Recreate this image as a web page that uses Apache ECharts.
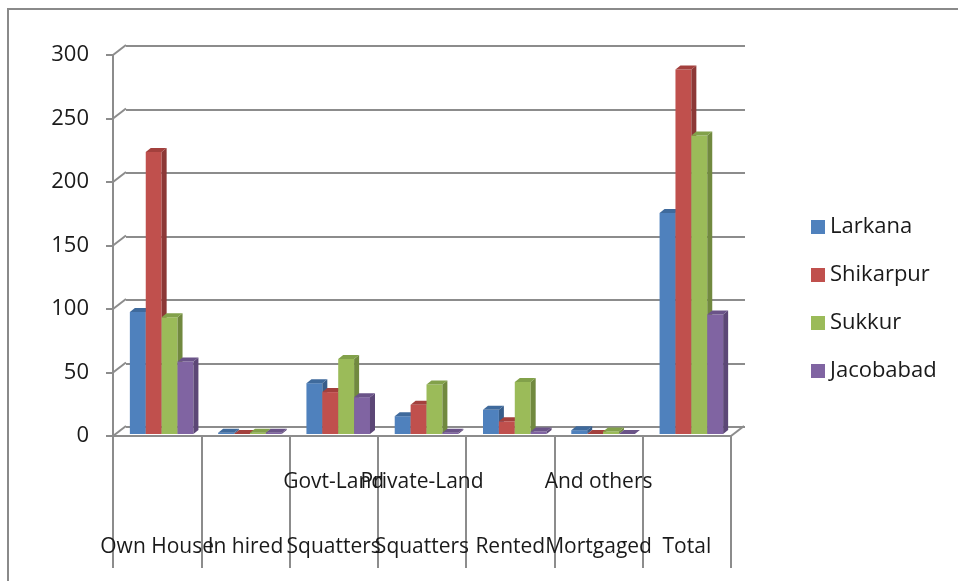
<!DOCTYPE html>
<html>
<head>
<meta charset="utf-8">
<script src="https://cdn.jsdelivr.net/npm/echarts@6/dist/echarts.min.js"></script>
<style>html,body{margin:0;padding:0;background:#fff}#c{width:958px;height:581px}</style>
</head>
<body>
<div id="c"></div>
<script>
const categories = ["Own House", "In hired", "Govt-Land\nSquatters", "Private-Land\nSquatters", "Rented", "And others\nMortgaged", "Total"];
const seriesNames = ["Larkana", "Shikarpur", "Sukkur", "Jacobabad"];
const larkana   = [96, 1, 40, 14, 19, 3, 174];
const shikarpur = [222, 0, 33, 23, 10, 0, 287];
const sukkur    = [92, 1, 59, 39, 41, 2, 235];
const jacobabad = [57, 1, 29, 1, 2, 0, 94];
const yTicks = [0, 50, 100, 150, 200, 250, 300];

const seriesValues = [larkana, shikarpur, sukkur, jacobabad];
const frontColors = ["#4F81BD", "#C0504D", "#9BBB59", "#8064A2"];
const sideColors  = ["#385D8A", "#8C3836", "#71893F", "#5C4776"];
const topColors   = ["#3F6A9C", "#A3403D", "#82A14A", "#6A5388"];

const DX = 5, DY = -4;
function makeRender(idx) {
  return function (params, api) {
    const cat = api.value(0), v = api.value(1);
    const top = api.coord([cat, v]);
    const base = api.coord([cat, 0]);
    const bw = api.size([1, 0])[0];
    const w = bw * 0.18;
    const x0 = top[0] - 2 * w + idx * w + 4.5;
    const y0 = top[1] - 2, yb = base[1] - 2;
    return {
      type: 'group',
      children: [
        { type: 'rect', shape: { x: x0, y: y0, width: w, height: yb - y0 }, style: { fill: frontColors[idx] } },
        { type: 'polygon', shape: { points: [[x0 + w, y0], [x0 + w + DX, y0 + DY], [x0 + w + DX, yb + DY], [x0 + w, yb]] }, style: { fill: sideColors[idx] } },
        { type: 'polygon', shape: { points: [[x0, y0], [x0 + DX, y0 + DY], [x0 + w + DX, y0 + DY], [x0 + w, y0]] }, style: { fill: topColors[idx] } }
      ]
    };
  };
}

const WDX = 13, WDY = -10;
function frameRender(params, api) {
  const v = api.value(1);
  const cs = params.coordSys;
  const y = api.coord([0, v])[1];
  const children = [
    { type: 'line', shape: { x1: cs.x, y1: y, x2: cs.x + WDX, y2: y + WDY }, style: { stroke: '#8c8c8c', lineWidth: 2 } }
  ];
  if (v === 0) {
    children.push({ type: 'line', shape: { x1: cs.x + cs.width, y1: y, x2: cs.x + cs.width + WDX, y2: y + WDY }, style: { stroke: '#8c8c8c', lineWidth: 2 } });
  }
  return { type: 'group', children };
}

const font = "'Open Sans', sans-serif";
const series = [
  {
    type: 'custom', name: 'frame', xAxisIndex: 0, yAxisIndex: 0,
    data: yTicks.map(t => [0, t]), renderItem: frameRender, silent: true, z: 1
  }
];
seriesNames.forEach((n, i) => {
  series.push({
    type: 'custom', name: n, xAxisIndex: 0, yAxisIndex: 0,
    itemStyle: { color: frontColors[i] },
    data: seriesValues[i].map((v, k) => [k, v]),
    encode: { x: 0, y: 1 },
    renderItem: makeRender(i), z: 3
  });
});

const chart = echarts.init(document.getElementById('c'), null, { renderer: 'canvas' });
chart.setOption({
  animation: false,
  backgroundColor: '#fff',
  graphic: [{ type: 'rect', shape: { x: 8, y: 9, width: 1000, height: 620 }, style: { fill: 'none', stroke: '#8a8a8a', lineWidth: 2 }, silent: true }],
  grid: [
    { left: 113, top: 55, width: 618, height: 381 },
    { left: 126, top: 46, width: 619, height: 381 }
  ],
  legend: {
    data: seriesNames.map(n => ({ name: n, icon: 'rect' })),
    orient: 'vertical', left: 806, top: 209,
    itemWidth: 14, itemHeight: 14, itemGap: 22,
    textStyle: { fontFamily: font, fontSize: 22, color: '#1a1a1a', lineHeight: 26, padding: [0, 0, 0, 0] }
  },
  xAxis: [
    {
      type: 'category', gridIndex: 0, data: categories, boundaryGap: true,
      axisLine: { show: true, lineStyle: { color: '#8c8c8c', width: 2 } },
      axisTick: { show: true, length: 132, alignWithLabel: false, lineStyle: { color: '#8c8c8c', width: 2 } },
      axisLabel: {
        interval: 0, margin: 14, color: '#1a1a1a', fontFamily: font, fontSize: 21, lineHeight: 65,
        formatter: v => (v.indexOf('\n') >= 0 ? v : '\n' + v)
      },
      splitLine: { show: false }
    },
    {
      type: 'category', gridIndex: 1, data: categories,
      axisLine: { show: false }, axisTick: { show: false }, axisLabel: { show: false }, splitLine: { show: false }
    }
  ],
  yAxis: [
    {
      type: 'value', gridIndex: 0, min: 0, max: 300, interval: 50,
      axisLine: { show: true, lineStyle: { color: '#8c8c8c', width: 2 } },
      axisTick: { show: true, length: 7, lineStyle: { color: '#8c8c8c', width: 2 } },
      axisLabel: { margin: 24, color: '#1a1a1a', fontFamily: font, fontSize: 22, padding: [4, 0, 0, 0] },
      splitLine: { show: false }
    },
    {
      type: 'value', gridIndex: 1, min: 0, max: 300, interval: 50,
      axisLine: { show: false }, axisTick: { show: false }, axisLabel: { show: false },
      splitLine: { show: true, lineStyle: { color: '#8c8c8c', width: 2 } }
    }
  ],
  series
});
</script>
</body>
</html>
